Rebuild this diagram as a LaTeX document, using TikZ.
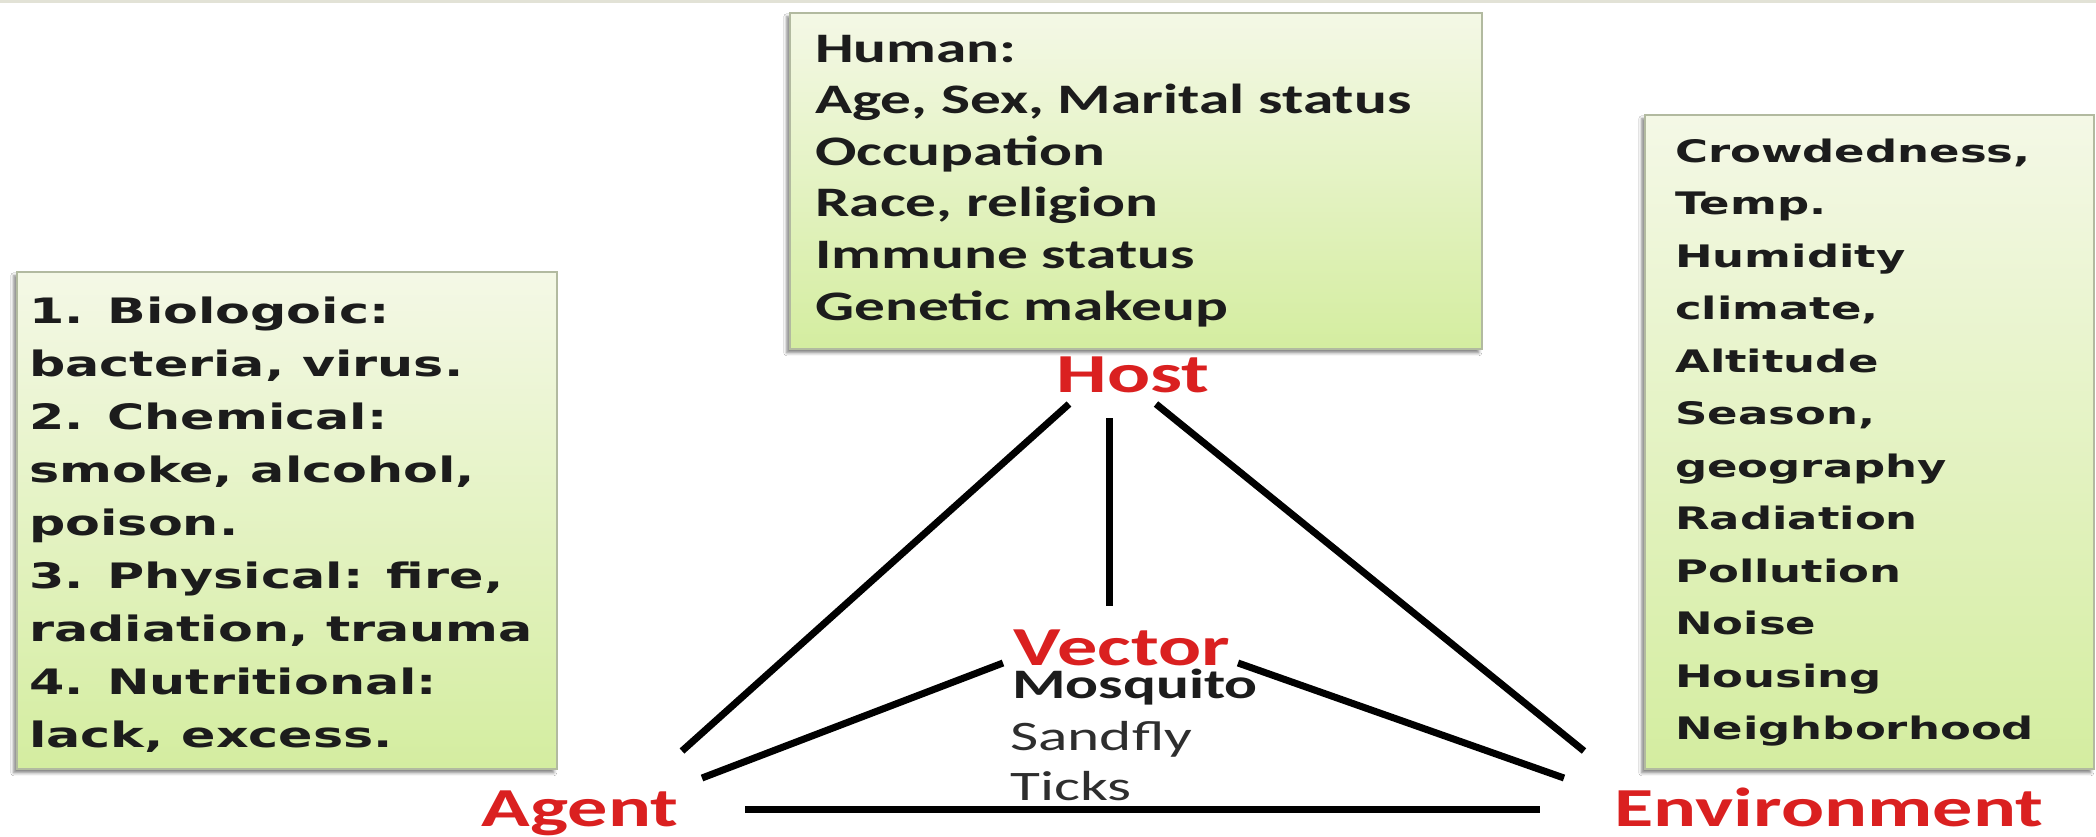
\documentclass[tikz,border=0pt]{standalone}
\usepackage{fontspec}
\usetikzlibrary{shadows.blur}
\newfontfamily\calfont[FakeStretch=1.46]{Carlito}
\newfontfamily\verfont[FakeStretch=1.45]{DejaVu Sans}
\definecolor{lblred}{RGB}{218,32,32}
\definecolor{boxtop}{RGB}{244,248,230}
\definecolor{boxbot}{RGB}{212,237,160}
\definecolor{boxedge}{RGB}{178,186,160}
\definecolor{txt}{RGB}{28,28,28}
\definecolor{topline}{RGB}{226,226,214}
\begin{document}
\begin{tikzpicture}[x=1pt,y=-1pt,
  infobox/.style={draw=boxedge, line width=1.5pt, inner sep=0pt, anchor=north west,
    top color=boxtop, bottom color=boxbot,
    blur shadow={shadow xshift=-3pt, shadow yshift=-4pt, shadow blur radius=3pt, shadow opacity=50}},
  boxtext/.style={anchor=base west, inner sep=0pt, text=txt},
  lbl/.style={anchor=base, inner sep=0pt, text=lblred, font=\calfont\bfseries\fontsize{55}{60}\selectfont},
  link/.style={draw=black, line width=7pt}]
\useasboundingbox (0,0) rectangle (2096,836);
\fill[white] (0,0) rectangle (2096,836);
\fill[topline] (0,0) rectangle (2096,3);

% boxes
\node[infobox, minimum width=540pt, minimum height=497pt] (agentbox) at (16,271) {};
\node[infobox, minimum width=692pt, minimum height=336pt] (hostbox) at (789,12) {};
\node[infobox, minimum width=449pt, minimum height=654pt] (envbox) at (1644,114) {};

% box texts
\node[boxtext, font=\verfont\bfseries\fontsize{35}{53}\selectfont] (agenttxt) at (29,323)
  {\begin{tabular}[t]{@{}l@{}}1. Biologoic:\\ bacteria, virus.\\ 2. Chemical:\\ smoke, alcohol,\\ poison.\\ 3. Physical: fire,\\ radiation, trauma\\ 4. Nutritional:\\ lack, excess.\end{tabular}};
\node[boxtext, font=\calfont\bfseries\fontsize{42}{51.6}\selectfont] (hosttxt) at (815,62)
  {\begin{tabular}[t]{@{}l@{}}Human:\\ Age, Sex, Marital status\\ Occupation\\ Race, religion\\ Immune status\\ Genetic makeup\end{tabular}};
\node[boxtext, font=\verfont\bfseries\fontsize{31}{52.5}\selectfont] (envtxt) at (1675,162)
  {\begin{tabular}[t]{@{}l@{}}Crowdedness,\\ Temp.\\ Humidity\\ climate,\\ Altitude\\ Season,\\ geography\\ Radiation\\ Pollution\\ Noise\\ Housing\\ Neighborhood\end{tabular}};

% labels
\node[lbl] (host) at (1133,392) {Host};
\node[lbl] (agent) at (580,826) {Agent};
\node[lbl] (env) at (1829,826) {Environment};
\node[lbl] (vector) at (1122,665) {Vector};
\node[boxtext, font=\calfont\bfseries\fontsize{42}{50}\selectfont] (mosq) at (1012,698) {Mosquito};
\node[boxtext, text=black!82, font=\calfont\fontsize{42}{50}\selectfont] (sand) at (1010,750) {Sandfly};
\node[boxtext, text=black!82, font=\calfont\fontsize{42}{50}\selectfont] (ticks) at (1010,800) {Ticks};

% connector end points
\coordinate (h1) at (1069,404);
\coordinate (h2) at (1109,418);
\coordinate (h3) at (1156,404);
\coordinate (a1) at (682,751);
\coordinate (a2) at (702,778);
\coordinate (a3) at (745,809);
\coordinate (v1) at (1109,606);
\coordinate (v2) at (1003,663);
\coordinate (v3) at (1238,663);
\coordinate (e1) at (1584,751);
\coordinate (e2) at (1564,778);
\coordinate (e3) at (1540,809);

\draw[link] (h1) -- (a1);
\draw[link] (h2) -- (v1);
\draw[link] (h3) -- (e1);
\draw[link] (a2) -- (v2);
\draw[link] (v3) -- (e2);
\draw[link] (a3) -- (e3);
\end{tikzpicture}
\end{document}
